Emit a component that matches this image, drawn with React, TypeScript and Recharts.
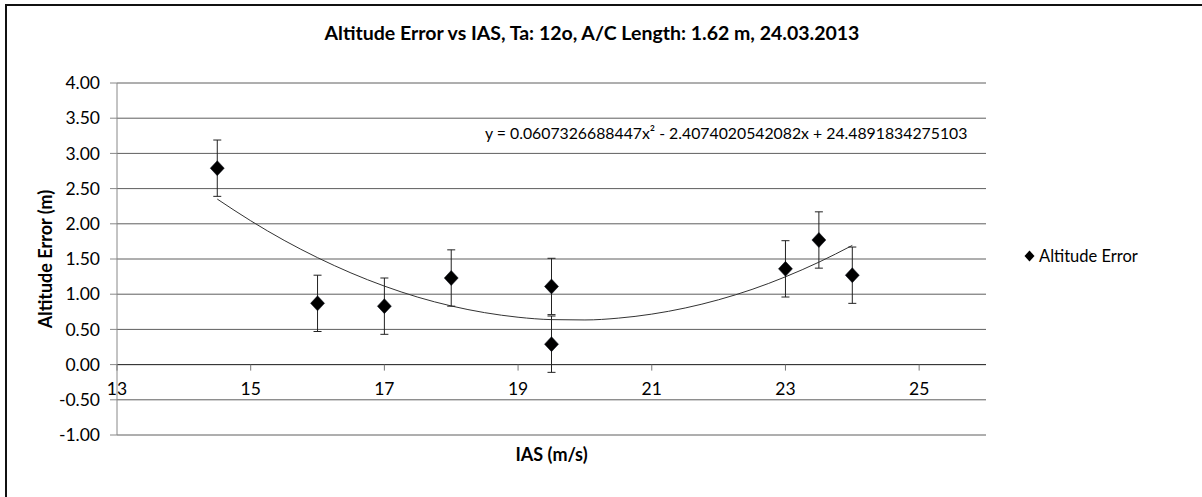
import React from "react";
import {
  ComposedChart,
  Scatter,
  Line,
  XAxis,
  YAxis,
  CartesianGrid,
  ErrorBar,
  ReferenceLine,
  Legend,
} from "recharts";

// measured points
const ias = [14.5, 16, 17, 18, 19.5, 19.5, 23, 23.5, 24];
const altitudeError = [2.79, 0.87, 0.83, 1.23, 1.11, 0.29, 1.36, 1.77, 1.27];
const errorSize = [0.4, 0.4, 0.4, 0.4, 0.4, 0.4, 0.4, 0.4, 0.4];

// polynomial trendline
const trendIas = [
  14.5, 15, 15.5, 16, 16.5, 17, 17.5, 18, 18.5, 19, 19.5, 20, 20.5, 21, 21.5,
  22, 22.5, 23, 23.5, 24,
];
const trendValues = [
  2.351, 2.043, 1.765, 1.519, 1.302, 1.115, 0.958, 0.833, 0.738, 0.673, 0.639,
  0.634, 0.66, 0.717, 0.804, 0.921, 1.068, 1.247, 1.455, 1.693,
];

const xTicks = [13, 15, 17, 19, 21, 23, 25];
const yTicks = [-1, -0.5, 0, 0.5, 1, 1.5, 2, 2.5, 3, 3.5, 4];

const title = "Altitude Error vs IAS, Ta: 12o, A/C Length: 1.62 m, 24.03.2013";
const equation =
  "y = 0.0607326688447x\u00b2 - 2.4074020542082x + 24.4891834275103";

const points = ias.map((x, i) => ({ x, y: altitudeError[i], err: errorSize[i] }));
const trend = trendIas.map((x, i) => ({ x, y: trendValues[i] }));

const FONT = "Lato, 'Open Sans', sans-serif";
const W = 1202;
const H = 497;
const MARGIN = { top: 83, right: 216, bottom: 0, left: 0 };
const Y_AXIS_W = 117;
const X_AXIS_H = 62;
const Y_MIN = -1;
const Y_MAX = 4;
const PLOT_H = H - MARGIN.top - MARGIN.bottom - X_AXIS_H;
// x axis crosses at y = 0, so its ticks sit above the plot bottom
const ZERO_OFFSET = (PLOT_H * (0 - Y_MIN)) / (Y_MAX - Y_MIN);

function Diamond(props: any) {
  const { cx, cy } = props;
  if (cx == null || cy == null) return null;
  return (
    <polygon
      points={`${cx},${cy - 7.5} ${cx + 7},${cy} ${cx},${cy + 7.5} ${cx - 7},${cy}`}
      fill="#000"
      stroke="#0b0f1a"
      strokeWidth={0.5}
    />
  );
}

function XTick(props: any) {
  const { x, y, payload } = props;
  const zy = y - ZERO_OFFSET;
  return (
    <g>
      <line x1={x} y1={zy} x2={x} y2={zy + 6} stroke="#777" />
      <text
        x={x}
        y={zy + 30}
        textAnchor="middle"
        fill="#000"
        fontSize={17.5}
        fontFamily={FONT}
      >
        {payload.value}
      </text>
    </g>
  );
}

function LegendBox() {
  return (
    <div
      style={{
        display: "flex",
        alignItems: "center",
        fontFamily: FONT,
        fontSize: 16.5,
        color: "#000",
        whiteSpace: "nowrap",
      }}
    >
      <svg width={11} height={12} style={{ marginRight: 4 }}>
        <polygon points="5.5,0.5 10.5,6 5.5,11.5 0.5,6" fill="#000" />
      </svg>
      <span>Altitude Error</span>
    </div>
  );
}

export default function App() {
  return (
    <div
      style={{
        position: "absolute",
        left: 0,
        top: 0,
        width: W,
        height: H,
        overflow: "hidden",
        background: "#fff",
      }}
    >
      <div
        style={{
          position: "absolute",
          left: 5,
          top: 4,
          width: 1210,
          height: 520,
          border: "2px solid #111",
        }}
      />
      <div
        style={{
          position: "absolute",
          left: 0,
          top: 21,
          width: 1184,
          textAlign: "center",
          fontFamily: FONT,
          fontWeight: 700,
          fontSize: 19.5,
          lineHeight: "24px",
          color: "#000",
        }}
      >
        {title}
      </div>
      <div style={{ position: "absolute", left: 0, top: 0 }}>
        <ComposedChart width={W} height={H} margin={MARGIN}>
          <CartesianGrid vertical={false} stroke="#5e5e5e" />
          <XAxis
            dataKey="x"
            type="number"
            domain={[13, 26]}
            ticks={xTicks}
            allowDataOverflow
            height={X_AXIS_H}
            axisLine={false}
            tickLine={false}
            tickSize={0}
            tickMargin={0}
            tick={<XTick />}
            interval={0}
            label={{
              value: "IAS (m/s)",
              position: "insideBottom",
              offset: 36,
              style: { fontFamily: FONT, fontWeight: 700, fontSize: 18, fill: "#000" },
            }}
          />
          <YAxis
            type="number"
            domain={[Y_MIN, Y_MAX]}
            ticks={yTicks}
            allowDataOverflow
            width={Y_AXIS_W}
            stroke="#888"
            tickSize={7}
            tickMargin={10}
            interval={0}
            tickFormatter={(v: number) => v.toFixed(2)}
            tick={{ fill: "#000", fontSize: 17.5, fontFamily: FONT }}
            label={{
              value: "Altitude Error (m)",
              angle: -90,
              position: "insideLeft",
              offset: 46,
              style: {
                fontFamily: FONT,
                fontWeight: 700,
                fontSize: 18,
                fill: "#000",
                textAnchor: "middle",
              },
            }}
          />
          <ReferenceLine y={0} stroke="#333" />
          <Line
            data={trend}
            dataKey="y"
            type="monotone"
            dot={false}
            stroke="#333"
            strokeWidth={1}
            legendType="none"
            isAnimationActive={false}
          />
          <Scatter
            data={points}
            dataKey="y"
            name="Altitude Error"
            fill="#000"
            shape={Diamond}
            isAnimationActive={false}
          >
            <ErrorBar dataKey="err" direction="y" width={4} stroke="#222" strokeWidth={1} />
          </Scatter>
          <Legend
            layout="horizontal"
            align="center"
            verticalAlign="middle"
            content={() => <LegendBox />}
            wrapperStyle={{ left: 1024, top: 246, width: 170 }}
          />
        </ComposedChart>
      </div>
      <div
        style={{
          position: "absolute",
          left: 485,
          top: 123,
          fontFamily: FONT,
          fontSize: 15.8,
          lineHeight: "20px",
          color: "#000",
          whiteSpace: "nowrap",
        }}
      >
        {equation}
      </div>
    </div>
  );
}
